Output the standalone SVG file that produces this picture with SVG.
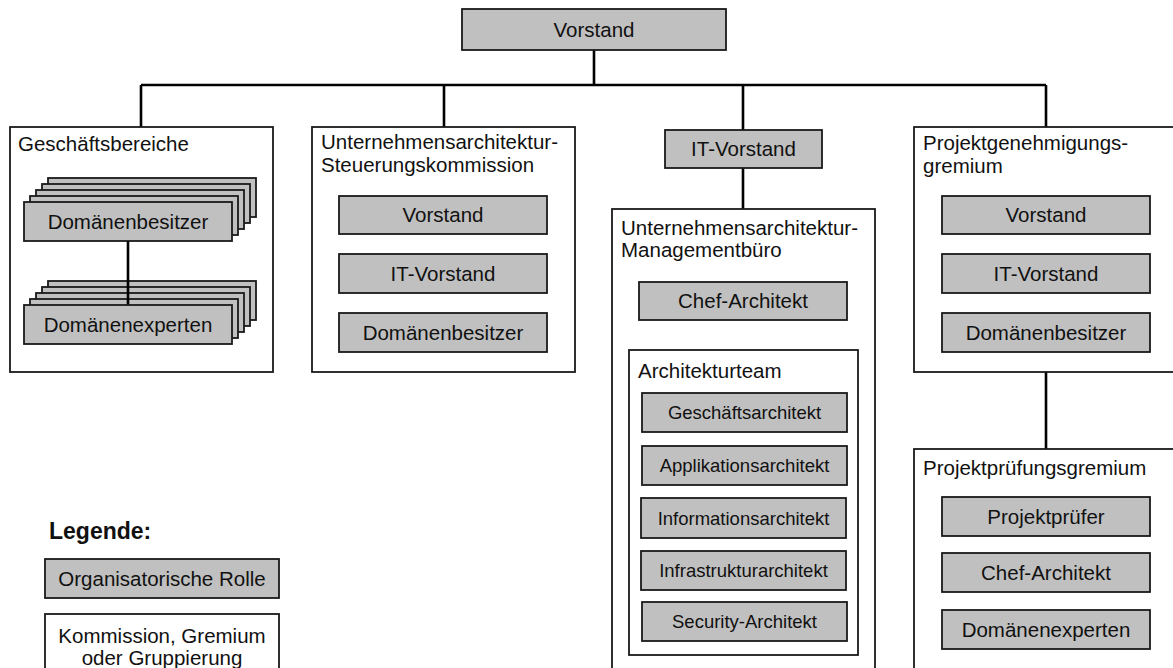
<svg xmlns="http://www.w3.org/2000/svg" width="1173" height="668" viewBox="0 0 1173 668">
<style>
.role{fill:#c0c0c0;stroke:#1a1a1a;stroke-width:1.8}
.grp{fill:#ffffff;stroke:#1a1a1a;stroke-width:1.8}
.t{font-family:"Liberation Sans",Arial,sans-serif;font-size:20.5px;fill:#111}
.c{text-anchor:middle}
.s{font-size:18.5px}
.lg{font-size:23px;font-weight:bold}
.conn{stroke:#000;stroke-width:2.6;fill:none}
</style>
<rect x="0" y="0" width="1173" height="668" fill="#ffffff"/>
<g id="connectors">
<path class="conn" d="M594 50V85M141 85H1046M141 85V127M444 85V127M743 85V130M1046 85V127M743 168V209M743 320V350M1046 372V449"/>
</g>
<g id="vorstand"><rect class="role" x="462" y="9" width="264" height="41"/><text class="t c" x="594" y="36.5">Vorstand</text></g>
<g id="geschaeftsbereiche">
<rect class="grp" x="10" y="127" width="263" height="245"/>
<text class="t" x="18" y="151">Geschäftsbereiche</text>
<g id="domaenenbesitzer-stack">
<rect class="role" x="48" y="178" width="208" height="39"/>
<rect class="role" x="42" y="184" width="208" height="39"/>
<rect class="role" x="36" y="190" width="208" height="39"/>
<rect class="role" x="30" y="196" width="208" height="39"/>
<rect class="role" x="24" y="202" width="208" height="39"/>
<text class="t c" x="128" y="228.5">Domänenbesitzer</text>
</g>
<g id="domaenenexperten-stack">
<rect class="role" x="48" y="281" width="208" height="39"/>
<rect class="role" x="42" y="287" width="208" height="39"/>
<rect class="role" x="36" y="293" width="208" height="39"/>
<rect class="role" x="30" y="299" width="208" height="39"/>
<path class="conn" d="M128 241V305"/>
<rect class="role" x="24" y="305" width="208" height="39"/>
<text class="t c" x="128" y="331.5">Domänenexperten</text>
</g>
</g>
<g id="steuerungskommission">
<rect class="grp" x="312" y="127" width="263" height="245"/>
<text class="t" x="321" y="149">Unternehmensarchitektur-</text>
<text class="t" x="321" y="172">Steuerungskommission</text>
<rect class="role" x="339" y="196" width="208" height="38"/><text class="t c" x="443" y="222">Vorstand</text>
<rect class="role" x="339" y="254" width="208" height="39"/><text class="t c" x="443" y="280.5">IT-Vorstand</text>
<rect class="role" x="339" y="313" width="208" height="39"/><text class="t c" x="443" y="339.5">Domänenbesitzer</text>
</g>
<g id="it-vorstand"><rect class="role" x="665" y="130" width="157" height="38"/><text class="t c" x="743.5" y="156">IT-Vorstand</text></g>
<g id="managementbuero">
<rect class="grp" x="612" y="209" width="263" height="470"/>
<text class="t" x="621" y="235">Unternehmensarchitektur-</text>
<text class="t" x="621" y="257">Managementbüro</text>
<rect class="role" x="639" y="282" width="208" height="38"/><text class="t c" x="743" y="308">Chef-Architekt</text>
</g>
<g id="architekturteam">
<rect class="grp" x="629" y="350" width="229" height="305"/>
<text class="t" x="638" y="378">Architekturteam</text>
<rect class="role" x="642" y="393" width="205" height="39"/><text class="t c s" x="744.5" y="419">Geschäftsarchitekt</text>
<rect class="role" x="642" y="446" width="205" height="39"/><text class="t c s" x="744.5" y="472">Applikationsarchitekt</text>
<rect class="role" x="641" y="498" width="205" height="40"/><text class="t c s" x="743.5" y="524.5">Informationsarchitekt</text>
<rect class="role" x="641" y="551" width="205" height="39"/><text class="t c s" x="743.5" y="577">Infrastrukturarchitekt</text>
<rect class="role" x="642" y="602" width="205" height="39"/><text class="t c s" x="744.5" y="628">Security-Architekt</text>
</g>
<g id="projektgenehmigungsgremium">
<rect class="grp" x="914" y="127" width="263" height="245"/>
<text class="t" x="923" y="150">Projektgenehmigungs-</text>
<text class="t" x="923" y="173">gremium</text>
<rect class="role" x="942" y="196" width="208" height="38"/><text class="t c" x="1046" y="222">Vorstand</text>
<rect class="role" x="942" y="254" width="208" height="39"/><text class="t c" x="1046" y="280.5">IT-Vorstand</text>
<rect class="role" x="942" y="313" width="208" height="39"/><text class="t c" x="1046" y="339.5">Domänenbesitzer</text>
</g>
<g id="projektpruefungsgremium">
<rect class="grp" x="914" y="449" width="263" height="230"/>
<text class="t" x="923" y="475">Projektprüfungsgremium</text>
<rect class="role" x="942" y="497" width="208" height="39"/><text class="t c" x="1046" y="523.5">Projektprüfer</text>
<rect class="role" x="942" y="553" width="208" height="39"/><text class="t c" x="1046" y="579.5">Chef-Architekt</text>
<rect class="role" x="942" y="610" width="208" height="39"/><text class="t c" x="1046" y="636.5">Domänenexperten</text>
</g>
<g id="legende">
<text class="t lg" x="49" y="539">Legende:</text>
<rect class="role" x="45" y="559" width="234" height="39"/><text class="t c" x="162" y="585.5">Organisatorische Rolle</text>
<rect class="grp" x="45" y="614" width="234" height="70"/>
<text class="t c" x="162" y="643">Kommission, Gremium</text>
<text class="t c" x="162" y="665">oder Gruppierung</text>
</g>
</svg>
